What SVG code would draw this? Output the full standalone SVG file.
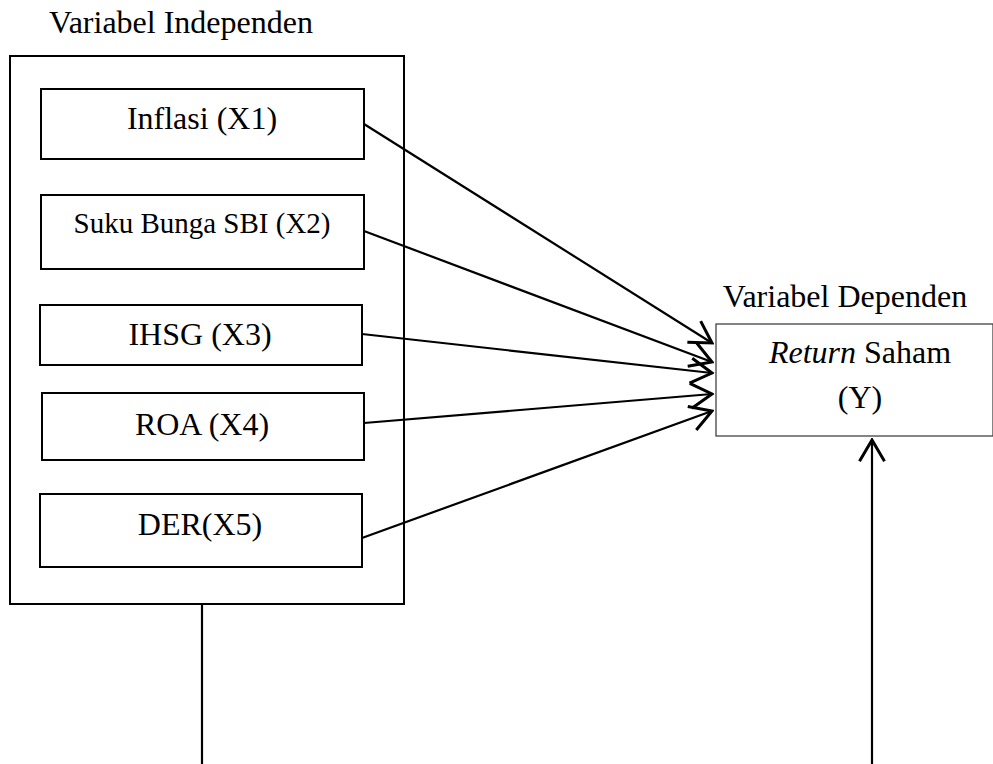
<svg xmlns="http://www.w3.org/2000/svg" width="993" height="764" viewBox="0 0 993 764">
<style>
text{font-family:"Liberation Serif","Times New Roman",serif;fill:#000;font-size:32px;text-anchor:middle}
.box{fill:#fff;stroke:#000;stroke-width:2}
.thin{fill:#fff;stroke:#333;stroke-width:1.2}
.conn{fill:none;stroke:#000;stroke-width:2.2}
</style>
<defs>
<marker id="arr" markerUnits="userSpaceOnUse" markerWidth="30" markerHeight="30" viewBox="-22 -12 24 24" refX="0" refY="0" orient="auto">
<path d="M-17,-10 L0,0 L-17,10" fill="none" stroke="#000" stroke-width="2.4"/>
</marker>
</defs>
<rect width="993" height="764" fill="#fff"/>
<g id="independen">
<text x="181" y="33">Variabel Independen</text>
<rect class="box" x="10" y="56" width="394" height="548"/>
</g>
<g id="x1"><rect class="box" x="41" y="89" width="323" height="70"/><text x="202" y="129">Inflasi (X1)</text></g>
<g id="x2"><rect class="box" x="41" y="195" width="323" height="74"/><text x="202" y="233" style="font-size:29px">Suku Bunga SBI (X2)</text></g>
<g id="x3"><rect class="box" x="40" y="305" width="322" height="60"/><text x="200" y="345">IHSG (X3)</text></g>
<g id="x4"><rect class="box" x="42" y="393" width="322" height="67"/><text x="202" y="435">ROA (X4)</text></g>
<g id="x5"><rect class="box" x="40" y="494" width="322" height="73"/><text x="200" y="535">DER(X5)</text></g>
<g id="dependen">
<text x="845" y="307">Variabel Dependen</text>
<rect class="thin" x="716" y="324" width="277" height="112"/>
<text x="860" y="363"><tspan font-style="italic">Return</tspan> Saham</text>
<text x="860" y="408">(Y)</text>
</g>
<g id="connectors">
<line class="conn" x1="364" y1="124" x2="712" y2="343" marker-end="url(#arr)"/>
<line class="conn" x1="364" y1="231" x2="712" y2="362" marker-end="url(#arr)"/>
<line class="conn" x1="362" y1="334" x2="712" y2="373" marker-end="url(#arr)"/>
<line class="conn" x1="364" y1="423" x2="712" y2="394" marker-end="url(#arr)"/>
<line class="conn" x1="362" y1="538" x2="712" y2="411" marker-end="url(#arr)"/>
<line class="conn" x1="202" y1="604" x2="202" y2="764"/>
<line class="conn" x1="872" y1="764" x2="872" y2="440" marker-end="url(#arr)"/>
</g>
</svg>
